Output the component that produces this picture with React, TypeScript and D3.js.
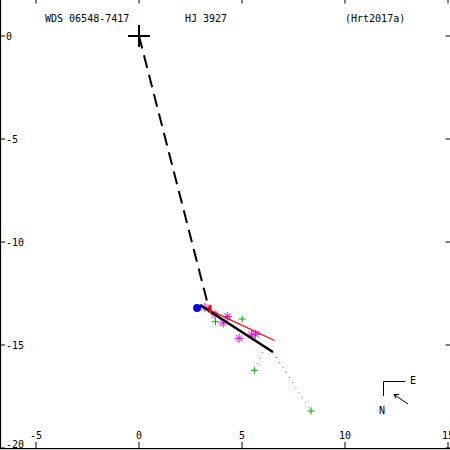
import React from "react";
import * as d3 from "d3";

// ---- data (arcsec offsets: x east-ish, y) ----
const xTicks = [-5, 0, 5, 10, 15];
const yTicks = [0, -5, -10, -15, -20];
const titleTexts = ["WDS 06548-7417", "HJ 3927", "(Hrt2017a)"];

const primary: [number, number] = [0, 0];
const dashedEnd: [number, number] = [3.4, -13.25];
const bluePoint: [number, number] = [2.82, -13.2];
const redMarker: [number, number] = [3.45, -13.25];
const fitLine: [number, number][] = [[2.96, -13.06], [6.5, -15.34]];
const redLine: [number, number][] = [[3.11, -13.16], [6.58, -14.78]];
const magentaPts: [number, number][] = [
  [3.2, -13.18], [3.69, -13.52], [4.3, -13.62], [4.09, -13.93],
  [4.86, -14.68], [5.46, -14.51], [5.66, -14.48],
];
const greenPts: [number, number][] = [
  [3.71, -13.87], [5.01, -13.74], [5.6, -16.23], [8.35, -18.2],
];
const greenResidEnds: [number, number][] = [
  [3.79, -13.59], [4.66, -14.2], [5.99, -15.35], [6.5, -15.34],
];

const W = 450, H = 450;
const x = d3.scaleLinear().domain([-5, 15]).range([36, 448]);
const y = d3.scaleLinear().domain([0, -20]).range([36, 448]);
const line = d3.line<[number, number]>().x(d => x(d[0])).y(d => y(d[1]));

const font = "'DejaVu Sans Mono', 'Liberation Mono', monospace";
const GREEN = "#00a800";
const MAGENTA = "#ff00ff";

function Star({ cx, cy }: { cx: number; cy: number }) {
  const r = 4.5, d = 3.2;
  return (
    <g stroke={MAGENTA} strokeWidth={1}>
      <line x1={cx - r} y1={cy} x2={cx + r} y2={cy} />
      <line x1={cx} y1={cy - r} x2={cx} y2={cy + r} />
      <line x1={cx - d} y1={cy - d} x2={cx + d} y2={cy + d} />
      <line x1={cx - d} y1={cy + d} x2={cx + d} y2={cy - d} />
    </g>
  );
}

function Plus({ cx, cy, r, color, w }: { cx: number; cy: number; r: number; color: string; w: number }) {
  return (
    <g stroke={color} strokeWidth={w}>
      <line x1={cx - r} y1={cy} x2={cx + r} y2={cy} />
      <line x1={cx} y1={cy - r} x2={cx} y2={cy + r} />
    </g>
  );
}

export default function App() {
  return (
    <svg width={W} height={H} style={{ position: "absolute", left: 0, top: 0, background: "#fff" }}
      fontFamily={font} fontSize={10}>
      <rect x={0} y={0} width={W} height={H} fill="#fff" />
      {/* axes lines */}
      <line x1={0.5} y1={0} x2={0.5} y2={449} stroke="#000" strokeWidth={1.2} />
      <line x1={0} y1={448.7} x2={450} y2={448.7} stroke="#000" strokeWidth={1.2} />
      {/* x ticks */}
      {xTicks.map(t => (
        <g key={"x" + t}>
          <line x1={x(t)} y1={449} x2={x(t)} y2={442} stroke="#000" strokeWidth={1} />
          <line x1={x(t)} y1={0} x2={x(t)} y2={3.5} stroke="#000" strokeWidth={1} />
          <text x={x(t)} y={435} textAnchor="middle" dominantBaseline="central">{t}</text>
        </g>
      ))}
      {/* y ticks */}
      {yTicks.map(t => (
        <g key={"y" + t}>
          <line x1={0} y1={y(t)} x2={5} y2={y(t)} stroke="#000" strokeWidth={1} />
          <line x1={445.5} y1={y(t)} x2={450} y2={y(t)} stroke="#000" strokeWidth={1} />
          <text x={6} y={Math.min(y(t), 444.5)} dominantBaseline="central">{t}</text>
        </g>
      ))}
      {/* titles */}
      <text x={45} y={22}>{titleTexts[0]}</text>
      <text x={185} y={22}>{titleTexts[1]}</text>
      <text x={345} y={22}>{titleTexts[2]}</text>

      {/* dashed line from primary */}
      <path d={line([primary, dashedEnd]) || ""} stroke="#000" strokeWidth={2} strokeDasharray="13,7" fill="none" />
      {/* primary */}
      <Plus cx={x(primary[0])} cy={y(primary[1])} r={11} color="#000" w={2} />

      {/* residual dotted lines */}
      {greenPts.map((p, i) => (
        <path key={"r" + i} d={line([greenResidEnds[i], p]) || ""} stroke={GREEN} strokeWidth={1}
          strokeDasharray="1,5" fill="none" />
      ))}
      {/* green plus */}
      {greenPts.map((p, i) => (
        <Plus key={"g" + i} cx={x(p[0])} cy={y(p[1])} r={3.5} color={GREEN} w={1} />
      ))}
      {/* magenta stars */}
      {magentaPts.map((p, i) => <Star key={"m" + i} cx={x(p[0])} cy={y(p[1])} />)}
      {/* red line */}
      <path d={line(redLine) || ""} stroke="#ff0000" strokeWidth={1.2} fill="none" />
      {/* black fit line */}
      <path d={line(fitLine) || ""} stroke="#000" strokeWidth={2.5} fill="none" />
      {/* blue dot */}
      <circle cx={x(bluePoint[0])} cy={y(bluePoint[1])} r={4} fill="#0000ff" />
      {/* red marker */}
      <rect x={x(redMarker[0]) - 1.5} y={y(redMarker[1]) - 4} width={3} height={8} fill="#ff0000" />

      {/* compass */}
      <g stroke="#000" strokeWidth={1} fill="none">
        <polyline points="383.5,396 383.5,381.5 405,381.5" />
        <line x1={408} y1={404} x2={394} y2={394.5} />
        <polyline points="399,394.5 394,394.5 396,398.5" />
      </g>
      <text x={410} y={384}>E</text>
      <text x={379} y={414}>N</text>
    </svg>
  );
}
